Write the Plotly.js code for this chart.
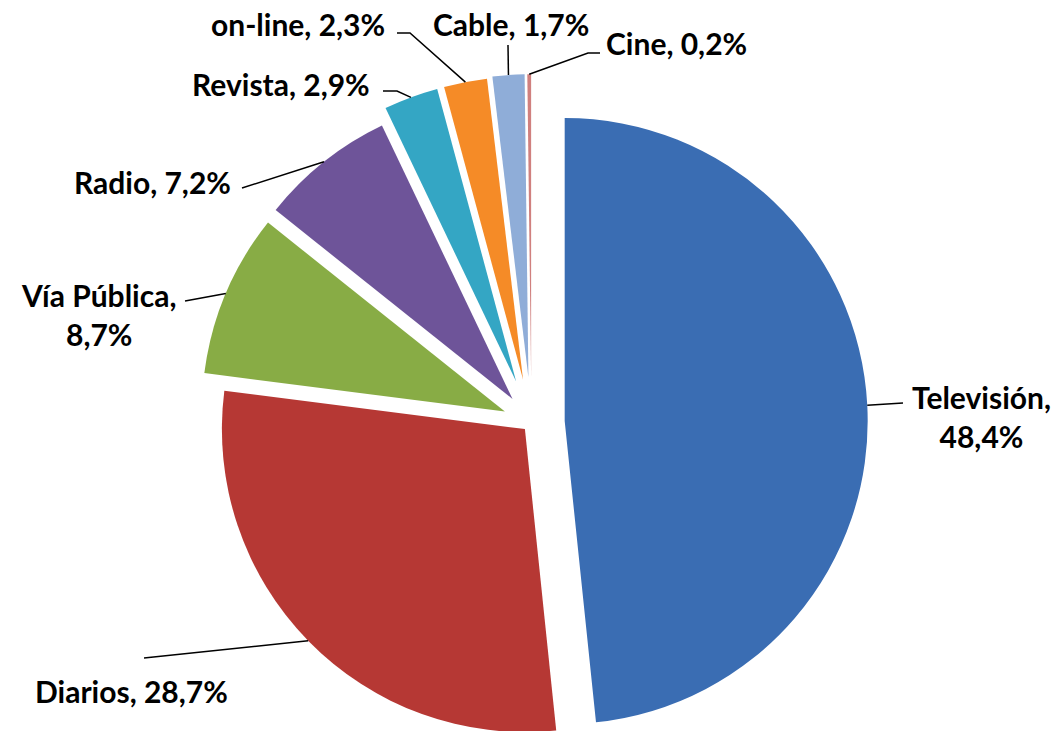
<!DOCTYPE html>
<html>
<head>
<meta charset="utf-8">
<script src="https://cdn.plot.ly/plotly-3.0.1.min.js"></script>
<style>
  html, body { margin: 0; padding: 0; overflow: hidden; background: #fff; }
  #chart { width: 1059px; height: 800px; }
</style>
</head>
<body>
<div id="chart"></div>
<script>
// ---- data ----
const categories = ['Televisión', 'Diarios', 'Vía Pública', 'Radio', 'Revista', 'on-line', 'Cable', 'Cine'];
const shares = [48.4, 28.7, 8.7, 7.2, 2.9, 2.3, 1.7, 0.2];
const twoLineLabels = ['Televisión', 'Vía Pública'];

// ---- styles ----
const colors = ['#3A6DB3', '#B63834', '#88AC45', '#6E5499', '#34A6C4', '#F58B27', '#8FADD8', '#D0807E'];
const pulls = [0.11, 0.03, 0.095, 0.10, 0.145, 0.145, 0.15, 0.15];

const W = 1059, H = 800;
const pieCenter = [531.4, 422.7];
const pieRadius = 303;

// label placement (pixels): optional elbow, line end, text center
const labelPlacement = [
  { end: [903, 403], text: [981, 416] },
  { end: [144, 658], text: [131, 691] },
  { end: [185, 301], text: [98, 314] },
  { end: [242, 188], text: [152, 182] },
  { elbow: [397, 91], end: [383, 91], text: [281, 84] },
  { elbow: [410, 33], end: [397, 33], text: [298, 24] },
  { end: [508, 45], text: [511, 24] },
  { elbow: [588, 53], end: [600, 53], text: [676, 43] }
];

function fmt(v) { return v.toFixed(1).replace('.', ','); }
const labelTexts = categories.map((c, i) =>
  twoLineLabels.includes(c) ? `${c},<br>${fmt(shares[i])}%` : `${c}, ${fmt(shares[i])}%`);

const maxPull = Math.max(...pulls);
const half = pieRadius * (1 + maxPull);
const domX = [(pieCenter[0] - half) / W, (pieCenter[0] + half) / W];
const domY = [1 - (pieCenter[1] + half) / H, 1 - (pieCenter[1] - half) / H];

const trace = {
  type: 'pie',
  labels: categories,
  values: shares,
  sort: false,
  direction: 'clockwise',
  rotation: 0,
  pull: pulls,
  textinfo: 'none',
  hoverinfo: 'label+percent',
  marker: { colors: colors, line: { width: 0 } },
  domain: { x: domX, y: domY },
  showlegend: false
};

// compute leader-line anchors from the data
const total = shares.reduce((a, b) => a + b, 0);
let cum = 0;
const shapes = [], annotations = [];
const px2x = p => p / W, px2y = p => 1 - p / H;
shares.forEach((v, i) => {
  const mid = (cum + v / 2) / total * 2 * Math.PI;
  cum += v;
  const rr = pieRadius * (1 + pulls[i]);
  const ax = pieCenter[0] + rr * Math.sin(mid);
  const ay = pieCenter[1] - rr * Math.cos(mid);
  const lp = labelPlacement[i];
  let path = `M ${px2x(ax)} ${px2y(ay)}`;
  if (lp.elbow) path += ` L ${px2x(lp.elbow[0])} ${px2y(lp.elbow[1])}`;
  path += ` L ${px2x(lp.end[0])} ${px2y(lp.end[1])}`;
  shapes.push({ type: 'path', xref: 'paper', yref: 'paper', path: path,
    line: { color: '#000000', width: 1.5 } });
  annotations.push({
    xref: 'paper', yref: 'paper',
    x: px2x(lp.text[0]), y: px2y(lp.text[1]),
    xanchor: 'center', yanchor: 'middle', align: 'center',
    text: labelTexts[i], showarrow: false,
    font: { family: 'Lato, sans-serif', size: 30, color: '#000000', weight: 'bold' }
  });
});

const layout = {
  width: W, height: H,
  margin: { l: 0, r: 0, t: 0, b: 0, pad: 0 },
  paper_bgcolor: '#ffffff',
  plot_bgcolor: '#ffffff',
  shapes: shapes,
  annotations: annotations
};

Plotly.newPlot('chart', [trace], layout, { displayModeBar: false, staticPlot: true });
</script>
</body>
</html>
